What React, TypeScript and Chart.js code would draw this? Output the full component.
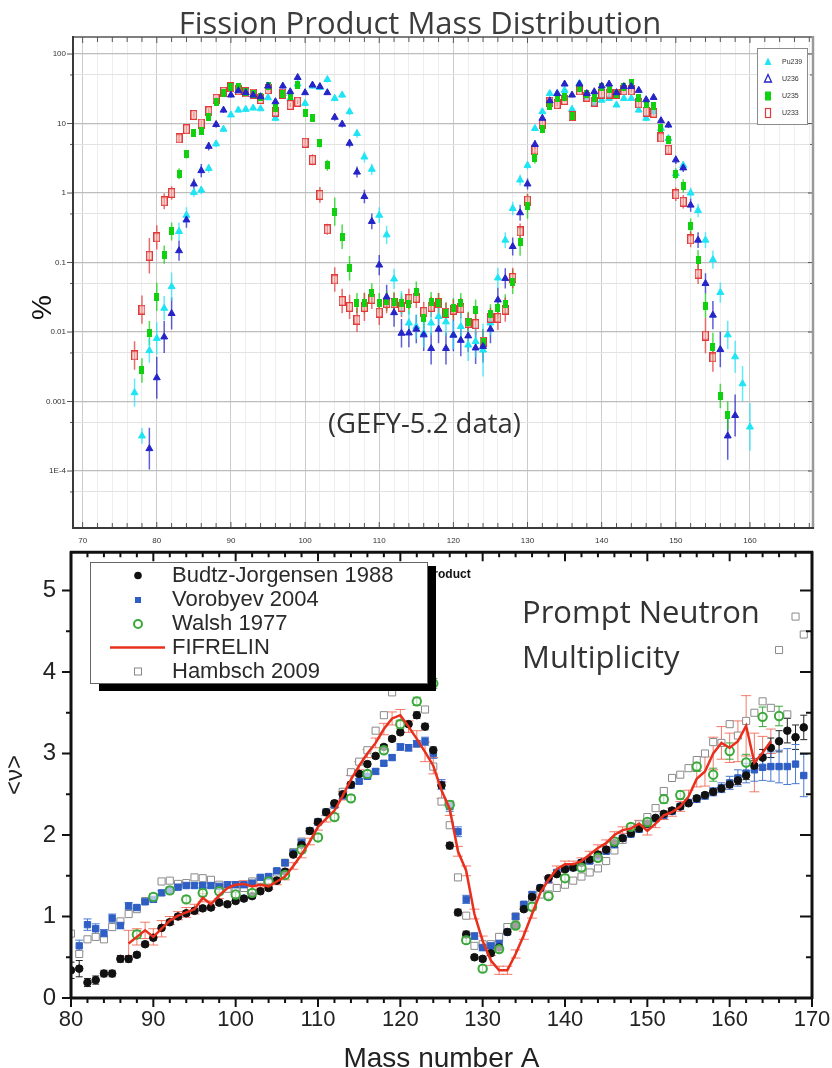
import React, { useEffect, useRef } from 'react';
import { Chart, registerables } from 'chart.js';

Chart.register(...registerables);

// ---------------- Top chart: fission product mass distribution ----------------
const topTitle = 'Fission Product Mass Distribution';
const gefyNote = '(GEFY-5.2 data)';
const topYAxisTitle = '%';
const topLegendLabels = ['Pu239', 'U236', 'U235', 'U233'];
const topXLabelTicks = [70, 80, 90, 100, 110, 120, 130, 140, 150, 160];
const topYTickValues = [0.00005, 0.0001, 0.0005, 0.001, 0.005, 0.01, 0.05, 0.1, 0.5, 1, 5, 10, 50, 100];
const topYDecades = [0.0001, 0.001, 0.01, 0.1, 1, 10, 100];
const topYDecadeLabels = ['1E-4', '0.001', '0.01', '0.1', '1', '10', '100'];

// [mass number, yield %, error factor]
const pu239 = [[77,0.00134,1.6],[78,0.00032,1.3],[79,0.0054,1.5],[80,0.0081,1.7],[81,0.022,1.5],[82,0.045,1.6],[83,0.28,1.35],[84,0.48,1.3],[85,1.02,1.15],[86,1.1,1.15],[87,2.26,1.15],[88,5.1,1.12],[89,8.3,1.1],[90,13.3,1.08],[91,15.6,1.08],[92,16,1.08],[93,16.7,1.08],[94,16.3,1.08],[95,23.5,1.08],[96,11.9,1.1],[97,27,1.08],[98,23,1.08],[99,37,1.08],[100,19.5,1.1],[101,34.6,1.1],[102,33,1.1],[103,43,1.1],[104,23,1.1],[105,25.7,1.1],[106,14.8,1.12],[107,7.2,1.15],[108,3.3,1.2],[109,2.2,1.2],[110,0.48,1.3],[111,0.25,1.35],[112,0.058,1.4],[113,0.026,1.5],[114,0.0135,1.5],[115,0.012,1.5],[116,0.0096,1.6],[117,0.0135,1.5],[118,0.0167,1.5],[119,0.014,1.6],[120,0.0091,1.6],[121,0.012,1.6],[122,0.0065,1.7],[123,0.0073,1.7],[124,0.0055,2.4],[125,0.0135,1.5],[126,0.06,1.4],[127,0.21,1.3],[128,0.6,1.25],[129,1.54,1.2],[130,2.5,1.15],[131,8.5,1.1],[132,14.8,1.1],[133,27,1.08],[134,27,1.08],[135,30,1.08],[136,16,1.08],[137,38,1.08],[138,24,1.08],[139,19,1.08],[140,21.7,1.08],[141,23,1.08],[142,18.5,1.08],[143,23,1.08],[144,23,1.08],[145,15.6,1.08],[146,11.9,1.1],[147,14.8,1.1],[148,8.5,1.1],[149,6.1,1.12],[150,1.9,1.15],[151,2.5,1.15],[152,1.0,1.2],[153,0.56,1.25],[154,0.21,1.3],[155,0.11,1.35],[156,0.037,1.4],[157,0.0091,1.6],[158,0.0044,1.7],[159,0.0018,1.8],[160,0.00043,2.2]];
const u236 = [[79,0.00021,2.0],[80,0.0022,2.0],[81,0.0085,1.7],[82,0.0185,1.7],[83,0.148,1.4],[84,0.41,1.3],[85,1.35,1.2],[86,2.1,1.25],[87,4.7,1.15],[88,9.7,1.12],[89,15.6,1.1],[90,25.7,1.08],[91,29.6,1.08],[92,27.8,1.08],[93,25.7,1.08],[94,24.3,1.08],[95,34.6,1.08],[96,20.6,1.08],[97,34.6,1.08],[98,28.7,1.08],[99,46,1.08],[100,27.8,1.08],[101,35.8,1.08],[102,34,1.08],[103,27.8,1.08],[104,12.3,1.12],[105,9.8,1.12],[106,5.2,1.15],[107,2.0,1.2],[108,0.89,1.25],[109,0.39,1.3],[110,0.092,1.4],[111,0.032,1.5],[112,0.019,1.6],[113,0.0096,1.6],[114,0.0097,1.6],[115,0.011,1.6],[116,0.0091,1.7],[117,0.0058,1.7],[118,0.011,1.6],[119,0.0058,1.7],[120,0.009,1.7],[121,0.0076,1.7],[122,0.0088,1.7],[123,0.0059,1.7],[124,0.0062,1.7],[125,0.011,1.6],[126,0.029,1.5],[127,0.059,1.4],[128,0.17,1.35],[129,0.52,1.3],[130,1.35,1.2],[131,5.0,1.15],[132,11.9,1.1],[133,21.3,1.08],[134,27,1.08],[135,37,1.08],[136,25.7,1.08],[137,37,1.08],[138,27,1.08],[139,28.7,1.08],[140,34.6,1.08],[141,37,1.08],[142,27.8,1.08],[143,34,1.08],[144,34,1.08],[145,30,1.08],[146,22,1.08],[147,23.7,1.08],[148,11,1.1],[149,9.5,1.1],[150,3.0,1.15],[151,2.3,1.15],[152,0.67,1.25],[153,0.21,1.3],[154,0.05,1.4],[155,0.0175,1.6],[156,0.0056,1.8],[157,0.00032,2.2],[158,0.00063,2.0]];
const u235 = [[78,0.0028,1.5],[79,0.0096,1.5],[80,0.032,1.6],[81,0.13,1.35],[82,0.28,1.35],[83,1.9,1.2],[84,3.6,1.15],[85,7.4,1.12],[86,7.9,1.12],[87,12.3,1.1],[88,20.6,1.08],[89,27.7,1.08],[90,33,1.08],[91,34,1.08],[92,28.7,1.08],[93,27,1.08],[94,24.3,1.08],[95,34.6,1.08],[96,17,1.08],[97,27,1.08],[98,25,1.08],[99,35.8,1.08],[100,14,1.1],[101,11.9,1.1],[102,5.2,1.15],[103,2.5,1.2],[104,0.54,1.6],[105,0.235,1.5],[106,0.083,1.5],[107,0.026,1.4],[108,0.026,1.4],[109,0.036,1.4],[110,0.026,1.4],[111,0.028,1.4],[112,0.027,1.4],[113,0.026,1.4],[114,0.025,1.4],[115,0.038,1.4],[116,0.016,1.4],[117,0.027,1.4],[118,0.026,1.4],[119,0.019,1.4],[120,0.022,1.4],[121,0.026,1.4],[122,0.014,1.4],[123,0.021,1.4],[124,0.0073,1.5],[125,0.018,1.4],[126,0.022,1.4],[127,0.025,1.4],[128,0.053,1.5],[129,0.2,1.6],[130,0.64,1.5],[131,3.2,1.2],[132,8.3,1.15],[133,17.9,1.1],[134,23,1.08],[135,24.3,1.08],[136,13,1.08],[137,32,1.08],[138,27,1.08],[139,23,1.08],[140,34,1.08],[141,31,1.08],[142,27,1.08],[143,33,1.08],[144,38,1.08],[145,23,1.08],[146,19,1.08],[147,18,1.08],[148,8.5,1.1],[149,5.8,1.12],[150,1.9,1.2],[151,1.26,1.25],[152,0.33,1.3],[153,0.108,1.4],[154,0.024,1.5],[155,0.0061,1.6],[156,0.0012,1.5],[157,0.00063,1.6]];
const u233 = [[77,0.0046,1.6],[78,0.021,1.6],[79,0.125,1.8],[80,0.23,1.5],[81,0.76,1.3],[82,1.0,1.25],[83,6.1,1.15],[84,8.3,1.12],[85,13.3,1.1],[86,10,1.1],[87,15,1.1],[88,22.7,1.08],[89,28.7,1.08],[90,33,1.08],[91,30,1.08],[92,28,1.08],[93,27,1.08],[94,22.5,1.08],[95,31,1.08],[96,14.8,1.08],[97,27,1.08],[98,18.5,1.08],[99,20.6,1.08],[100,5.3,1.12],[101,3.0,1.2],[102,0.94,1.3],[103,0.30,1.2],[104,0.057,1.5],[105,0.028,1.5],[106,0.023,1.5],[107,0.015,1.5],[108,0.023,1.6],[109,0.030,1.4],[110,0.019,1.5],[111,0.026,1.4],[112,0.026,1.4],[113,0.023,1.4],[114,0.030,1.4],[115,0.031,1.4],[116,0.0195,1.4],[117,0.023,1.4],[118,0.026,1.4],[119,0.019,1.4],[120,0.021,1.4],[121,0.022,1.4],[122,0.0135,1.4],[123,0.013,1.4],[124,0.0073,1.5],[125,0.016,1.4],[126,0.016,1.5],[127,0.021,1.5],[128,0.06,1.4],[129,0.28,1.3],[130,0.78,1.25],[131,4.2,1.15],[132,10,1.1],[133,20.6,1.08],[134,19,1.08],[135,21.8,1.08],[136,12.8,1.1],[137,30,1.08],[138,24.3,1.08],[139,20.6,1.08],[140,27,1.08],[141,27,1.08],[142,27,1.08],[143,30,1.08],[144,30,1.08],[145,19.5,1.08],[146,14.8,1.1],[147,14.3,1.1],[148,6.3,1.12],[149,4.2,1.15],[150,0.96,1.25],[151,0.75,1.25],[152,0.215,1.3],[153,0.069,1.4],[154,0.0089,1.8],[155,0.0043,1.6]];

// ---------------- Bottom chart: prompt neutron multiplicity ----------------
const noteLine1 = 'Prompt Neutron';
const noteLine2 = 'Multiplicity';
const productNote = 'product';
const botXTitle = 'Mass number A';
const botYTitle = '<\u03bd>';
const botLegendLabels = ['Budtz-Jorgensen 1988', 'Vorobyev 2004', 'Walsh 1977', 'FIFRELIN', 'Hambsch 2009'];
const botXLabelTicks = [80, 90, 100, 110, 120, 130, 140, 150, 160, 170];
const botYLabelTicks = [0, 1, 2, 3, 4, 5];

// [mass number, <nu>, error]
const budtz = [[80,0.34,0.1],[81,0.36,0.1],[82,0.19,0.05],[83,0.22,0.05],[84,0.30,0.04],[85,0.30,0.04],[86,0.48,0.04],[87,0.48,0.04],[88,0.53,0.03],[89,0.66,0.03],[90,0.74,0.03],[91,0.86,0.03],[92,0.93,0.03],[93,1.00,0.03],[94,1.04,0.03],[95,1.07,0.03],[96,1.10,0.03],[97,1.11,0.03],[98,1.17,0.03],[99,1.15,0.03],[100,1.19,0.03],[101,1.22,0.03],[102,1.25,0.03],[103,1.31,0.03],[104,1.35,0.03],[105,1.44,0.03],[106,1.55,0.03],[107,1.76,0.03],[108,1.88,0.03],[109,2.05,0.03],[110,2.16,0.03],[111,2.28,0.03],[112,2.39,0.03],[113,2.50,0.03],[114,2.62,0.03],[115,2.75,0.03],[116,2.87,0.03],[117,2.97,0.03],[118,3.08,0.03],[119,3.18,0.03],[120,3.26,0.03],[121,3.36,0.03],[122,3.47,0.04],[123,3.33,0.04],[124,3.04,0.04],[125,2.61,0.04],[126,1.87,0.04],[127,1.05,0.04],[128,0.78,0.04],[129,0.50,0.03],[130,0.48,0.03],[131,0.55,0.03],[132,0.62,0.03],[133,0.81,0.03],[134,0.89,0.03],[135,1.09,0.03],[136,1.24,0.03],[137,1.35,0.03],[138,1.47,0.03],[139,1.52,0.03],[140,1.58,0.03],[141,1.60,0.03],[142,1.66,0.03],[143,1.70,0.03],[144,1.76,0.03],[145,1.82,0.03],[146,1.90,0.03],[147,1.96,0.03],[148,2.02,0.03],[149,2.08,0.03],[150,2.14,0.03],[151,2.21,0.03],[152,2.26,0.03],[153,2.30,0.03],[154,2.35,0.03],[155,2.39,0.03],[156,2.45,0.03],[157,2.49,0.03],[158,2.53,0.04],[159,2.57,0.04],[160,2.62,0.04],[161,2.67,0.05],[162,2.73,0.05],[163,2.85,0.06],[164,2.95,0.1],[165,3.07,0.12],[166,3.15,0.13],[167,3.28,0.15],[168,3.20,0.15],[169,3.32,0.15]];
const vorobyev = [[81,0.64,0.07],[82,0.90,0.07],[83,0.85,0.06],[84,0.79,0.05],[85,0.98,0.05],[86,0.89,0.04],[87,1.13,0.04],[88,1.11,0.03],[89,1.18,0.03],[90,1.21,0.03],[91,1.29,0.03],[92,1.32,0.03],[93,1.36,0.03],[94,1.38,0.03],[95,1.38,0.03],[96,1.38,0.03],[97,1.38,0.03],[98,1.37,0.03],[99,1.39,0.03],[100,1.39,0.03],[101,1.39,0.03],[102,1.41,0.03],[103,1.48,0.03],[104,1.49,0.03],[105,1.56,0.03],[106,1.66,0.03],[107,1.78,0.03],[108,1.91,0.03],[109,2.05,0.03],[110,2.16,0.03],[111,2.28,0.03],[112,2.37,0.03],[113,2.48,0.03],[114,2.61,0.03],[115,2.66,0.03],[116,2.72,0.03],[117,2.78,0.03],[118,2.88,0.03],[119,2.95,0.03],[120,3.08,0.04],[121,3.07,0.04],[122,3.12,0.04],[123,3.15,0.05],[124,3.0,0.06],[125,2.62,0.06],[126,2.35,0.06],[127,2.04,0.06],[128,1.21,0.05],[129,0.76,0.04],[130,0.62,0.04],[131,0.64,0.03],[132,0.67,0.03],[133,0.81,0.03],[134,1.0,0.03],[135,1.15,0.03],[136,1.27,0.03],[137,1.35,0.03],[138,1.45,0.03],[139,1.54,0.03],[140,1.59,0.03],[141,1.60,0.03],[142,1.66,0.03],[143,1.68,0.03],[144,1.74,0.03],[145,1.80,0.03],[146,1.88,0.03],[147,1.96,0.03],[148,2.01,0.03],[149,2.07,0.03],[150,2.13,0.03],[151,2.20,0.03],[152,2.24,0.03],[153,2.29,0.03],[154,2.35,0.03],[155,2.40,0.03],[156,2.44,0.04],[157,2.48,0.04],[158,2.53,0.05],[159,2.58,0.06],[160,2.64,0.08],[161,2.70,0.1],[162,2.76,0.12],[163,2.80,0.14],[164,2.83,0.16],[165,2.84,0.18],[166,2.84,0.2],[167,2.84,0.22],[168,2.87,0.24],[169,2.73,0.26]];
const walsh = [[88,0.78,0.05],[90,1.24,0.04],[92,1.32,0.04],[94,1.21,0.04],[96,1.29,0.04],[98,1.31,0.04],[100,1.27,0.04],[102,1.29,0.04],[104,1.43,0.04],[106,1.51,0.04],[108,1.82,0.04],[110,1.97,0.04],[112,2.22,0.04],[114,2.45,0.04],[116,2.75,0.04],[118,3.04,0.04],[120,3.36,0.05],[122,3.64,0.05],[124,3.86,0.06],[126,2.37,0.05],[128,0.71,0.04],[130,0.36,0.04],[132,0.60,0.04],[134,0.89,0.04],[136,1.12,0.04],[138,1.25,0.04],[140,1.47,0.04],[142,1.60,0.04],[144,1.72,0.04],[146,1.92,0.04],[148,2.10,0.04],[150,2.16,0.04],[152,2.44,0.05],[154,2.49,0.05],[156,2.84,0.06],[158,2.74,0.08],[160,3.03,0.1],[162,2.89,0.1],[164,3.45,0.12],[166,3.46,0.12]];
const fifrelin = [[87,0.67,0.16],[88,0.75,0.1],[89,0.83,0.1],[90,0.75,0.1],[91,0.85,0.1],[92,0.95,0.05],[93,1.01,0.05],[94,1.05,0.06],[95,1.09,0.06],[96,1.23,0.05],[97,1.15,0.04],[98,1.26,0.04],[99,1.35,0.04],[100,1.39,0.04],[101,1.40,0.04],[102,1.37,0.04],[103,1.39,0.04],[104,1.37,0.04],[105,1.43,0.04],[106,1.49,0.04],[107,1.62,0.04],[108,1.76,0.04],[109,1.92,0.04],[110,2.10,0.04],[111,2.20,0.04],[112,2.30,0.04],[113,2.48,0.05],[114,2.68,0.05],[115,2.85,0.05],[116,3.0,0.05],[117,3.13,0.06],[118,3.30,0.07],[119,3.43,0.08],[120,3.47,0.07],[121,3.33,0.07],[122,3.18,0.1],[123,3.02,0.12],[124,2.85,0.1],[125,2.55,0.1],[126,2.32,0.08],[127,1.80,0.06],[128,1.56,0.06],[129,1.03,0.06],[130,0.70,0.06],[131,0.46,0.06],[132,0.34,0.05],[133,0.34,0.05],[134,0.54,0.05],[135,0.77,0.05],[136,1.03,0.05],[137,1.29,0.04],[138,1.45,0.04],[139,1.58,0.04],[140,1.64,0.04],[141,1.64,0.04],[142,1.68,0.04],[143,1.76,0.04],[144,1.84,0.04],[145,1.90,0.04],[146,2.0,0.04],[147,2.06,0.04],[148,2.08,0.04],[149,2.14,0.04],[150,2.05,0.05],[151,2.14,0.05],[152,2.24,0.05],[153,2.28,0.05],[154,2.35,0.06],[155,2.47,0.08],[156,2.69,0.1],[157,2.78,0.18],[158,3.0,0.2],[159,3.13,0.2],[160,3.07,0.18],[161,3.15,0.25],[162,3.34,0.37],[163,2.89,0.36],[164,3.01,0.2],[165,3.15,0.15]];
const hambsch = [[80,0.79],[81,0.54],[82,0.72],[83,0.75],[84,0.72],[85,0.87],[86,0.94],[87,1.03],[88,1.09],[89,1.19],[90,1.24],[91,1.43],[92,1.44],[93,1.40],[94,1.41],[95,1.48],[96,1.47],[97,1.45],[98,1.39],[99,1.34],[100,1.34],[101,1.35],[102,1.43],[103,1.45],[104,1.45],[105,1.54],[106,1.66],[107,1.79],[108,1.92],[109,2.05],[110,2.16],[111,2.28],[112,2.37],[113,2.53],[114,2.77],[115,2.90],[116,3.04],[117,3.28],[118,3.47],[119,3.75],[123,3.54],[124,2.84],[125,2.41],[126,2.12],[127,1.48],[128,1.01],[129,0.64],[130,0.66],[131,0.66],[132,0.75],[133,0.87],[134,1.0],[135,1.13],[136,1.22],[137,1.27],[138,1.27],[139,1.35],[140,1.39],[141,1.44],[142,1.49],[143,1.54],[144,1.59],[145,1.68],[146,1.81],[147,1.94],[148,2.06],[149,2.13],[150,2.22],[151,2.33],[152,2.54],[153,2.70],[154,2.74],[155,2.82],[156,2.92],[157,3.0],[158,3.14],[159,3.13],[160,3.36],[161,3.22],[162,3.40],[163,3.50],[164,3.64],[165,3.56],[166,4.27],[167,3.48],[168,4.68],[169,4.46]];

// ---------------- helpers ----------------
const SANS = '"Liberation Sans", Arial, sans-serif';
const OPEN = '"Open Sans", "Noto Sans", sans-serif';

function rectMarker(w: number, h: number, fill: string | null, stroke: string | null, lw: number) {
  const c = document.createElement('canvas');
  c.width = w; c.height = h;
  const g = c.getContext('2d')!;
  if (fill) { g.fillStyle = fill; g.fillRect(0, 0, w, h); }
  if (stroke) { g.strokeStyle = stroke; g.lineWidth = lw; g.strokeRect(lw / 2, lw / 2, w - lw, h - lw); }
  return c;
}

const errorBarPlugin = {
  id: 'errorBars',
  beforeDatasetsDraw(chart: any) {
    const { ctx, chartArea: a } = chart;
    const ys = chart.scales.y;
    ctx.save();
    ctx.beginPath();
    ctx.rect(a.left, a.top, a.right - a.left, a.bottom - a.top);
    ctx.clip();
    chart.data.datasets.forEach((ds: any, di: number) => {
      if (!ds.errors) return;
      const meta = chart.getDatasetMeta(di);
      ctx.strokeStyle = ds.errColor;
      ctx.lineWidth = ds.errWidth || 1;
      ctx.beginPath();
      ds.data.forEach((pt: any, i: number) => {
        const e = ds.errors[i];
        const el = meta.data[i];
        if (e == null || !el) return;
        const lo = ds.errMode === 'factor' ? pt.y / e : pt.y - e;
        const hi = ds.errMode === 'factor' ? pt.y * e : pt.y + e;
        const y1 = ys.getPixelForValue(lo);
        const y2 = ys.getPixelForValue(hi);
        const x = el.x;
        ctx.moveTo(x, y1); ctx.lineTo(x, y2);
        const cw = ds.capWidth || 0;
        if (cw) {
          ctx.moveTo(x - cw, y1); ctx.lineTo(x + cw, y1);
          ctx.moveTo(x - cw, y2); ctx.lineTo(x + cw, y2);
        }
      });
      ctx.stroke();
    });
    ctx.restore();
  },
};

function framePlugin(spec: any) {
  return {
    id: 'frame',
    afterDatasetsDraw(chart: any) {
      const { ctx, chartArea: a } = chart;
      const xs = chart.scales.x, ys = chart.scales.y;
      ctx.save();
      ctx.strokeStyle = spec.tickColor;
      ctx.lineWidth = spec.tickWidth;
      ctx.beginPath();
      for (const t of xs.ticks) {
        const p = xs.getPixelForValue(t.value);
        if (p < a.left - 0.5 || p > a.right + 0.5) continue;
        const maj = spec.xMajor(t.value);
        const lb = maj ? spec.bottom[0] : spec.bottom[1];
        ctx.moveTo(p, a.bottom); ctx.lineTo(p, a.bottom + spec.bottom[2] * lb);
        const lt = maj ? spec.top[0] : spec.top[1];
        ctx.moveTo(p, a.top); ctx.lineTo(p, a.top + spec.top[2] * lt);
      }
      for (const t of ys.ticks) {
        const p = ys.getPixelForValue(t.value);
        if (p < a.top - 0.5 || p > a.bottom + 0.5) continue;
        const maj = spec.yMajor(t.value);
        const ll = maj ? spec.left[0] : spec.left[1];
        ctx.moveTo(a.left, p); ctx.lineTo(a.left + spec.left[2] * ll, p);
        const lr = maj ? spec.right[0] : spec.right[1];
        ctx.moveTo(a.right, p); ctx.lineTo(a.right + spec.right[2] * lr, p);
      }
      ctx.stroke();
      const side = (w: number, c: string, x1: number, y1: number, x2: number, y2: number) => {
        ctx.lineWidth = w; ctx.strokeStyle = c;
        ctx.beginPath(); ctx.moveTo(x1, y1); ctx.lineTo(x2, y2); ctx.stroke();
      };
      const b = spec.border;
      side(b.top[0], b.top[1], a.left - 1, a.top, a.right + 1, a.top);
      side(b.right[0], b.right[1], a.right, a.top - 1, a.right, a.bottom + 1);
      side(b.bottom[0], b.bottom[1], a.left - 1, a.bottom, a.right + 1, a.bottom);
      side(b.left[0], b.left[1], a.left, a.top - 1, a.left, a.bottom + 1);
      ctx.restore();
    },
  };
}

const isDecade = (v: number) => Math.abs(Math.log10(v) - Math.round(Math.log10(v))) < 1e-6;

const topOverlayPlugin = {
  id: 'topOverlay',
  afterDraw(chart: any) {
    const ctx = chart.ctx;
    ctx.save();
    ctx.fillStyle = '#3c3c3c';
    ctx.font = `31px ${OPEN}`;
    ctx.textAlign = 'center';
    ctx.textBaseline = 'alphabetic';
    ctx.fillText(topTitle, 420, 34);
    ctx.fillStyle = '#333';
    ctx.font = `27.5px ${OPEN}`;
    ctx.textAlign = 'left';
    ctx.fillText(gefyNote, 328, 433);
    ctx.save();
    ctx.translate(43.5, 307.5);
    ctx.rotate(-Math.PI / 2);
    ctx.font = `28px ${SANS}`;
    ctx.fillStyle = '#111';
    ctx.textAlign = 'center';
    ctx.textBaseline = 'middle';
    ctx.fillText(topYAxisTitle, 0, 0);
    ctx.restore();
    // legend box
    const lx = 757, ly = 48, lw = 50, lh = 76;
    ctx.fillStyle = '#fff';
    ctx.fillRect(lx, ly, lw, lh);
    ctx.strokeStyle = '#8c8c8c';
    ctx.lineWidth = 1;
    ctx.strokeRect(lx + 0.5, ly + 0.5, lw, lh);
    const rows = [62, 79, 96, 113];
    const mx = 768;
    // Pu239 filled cyan triangle
    ctx.fillStyle = '#1ee4f4';
    ctx.beginPath(); ctx.moveTo(mx, rows[0] - 4.5); ctx.lineTo(mx + 3.5, rows[0] + 3); ctx.lineTo(mx - 3.5, rows[0] + 3); ctx.closePath(); ctx.fill();
    // U236 open blue triangle
    ctx.strokeStyle = '#2424c8'; ctx.lineWidth = 1.3;
    ctx.beginPath(); ctx.moveTo(mx, rows[1] - 4.5); ctx.lineTo(mx + 3.5, rows[1] + 3); ctx.lineTo(mx - 3.5, rows[1] + 3); ctx.closePath(); ctx.stroke();
    // U235 green filled rect
    ctx.fillStyle = '#10d010';
    ctx.fillRect(mx - 3, rows[2] - 4.5, 6, 9);
    // U233 red open rect
    ctx.strokeStyle = '#e03a3a'; ctx.lineWidth = 1.2;
    ctx.strokeRect(mx - 2.5, rows[3] - 4.5, 5, 9);
    ctx.fillStyle = '#333';
    ctx.font = `7px ${SANS}`;
    ctx.textAlign = 'left';
    ctx.textBaseline = 'middle';
    topLegendLabels.forEach((t, i) => ctx.fillText(t, 782, rows[i]));
    ctx.restore();
  },
};

const botOverlayPlugin = {
  id: 'botOverlay',
  afterDraw(chart: any) {
    const ctx = chart.ctx;
    ctx.save();
    ctx.fillStyle = '#333';
    ctx.font = `31px ${OPEN}`;
    ctx.textAlign = 'left';
    ctx.textBaseline = 'alphabetic';
    ctx.fillText(noteLine1, 522, 77);
    ctx.fillText(noteLine2, 522, 122);
    ctx.fillStyle = '#111';
    ctx.font = `bold 12px ${SANS}`;
    ctx.fillText(productNote, 426, 32);
    // legend shadow and box
    const bx = 90, by = 16, bw = 337, bh = 121;
    ctx.fillStyle = '#000';
    ctx.fillRect(bx + 9, by + 4, bw, bh + 4);
    ctx.fillStyle = '#fff';
    ctx.fillRect(bx, by, bw, bh);
    ctx.strokeStyle = '#666';
    ctx.lineWidth = 1;
    ctx.strokeRect(bx + 0.5, by + 0.5, bw, bh);
    const rows = [29.5, 54, 78, 101.5, 125.5];
    const mx = 138;
    // Budtz: black dot
    ctx.fillStyle = '#111';
    ctx.beginPath(); ctx.arc(mx, rows[0], 3.8, 0, Math.PI * 2); ctx.fill();
    // Vorobyev: blue square
    ctx.fillStyle = '#2f5fc4';
    ctx.fillRect(mx - 3, rows[1] - 3, 6, 6);
    // Walsh: green open circle
    ctx.strokeStyle = '#3aa83a'; ctx.lineWidth = 2;
    ctx.beginPath(); ctx.arc(mx, rows[2], 4, 0, Math.PI * 2); ctx.stroke();
    // FIFRELIN: red line
    ctx.strokeStyle = '#e8301c'; ctx.lineWidth = 2.5;
    ctx.beginPath(); ctx.moveTo(110, rows[3]); ctx.lineTo(165, rows[3]); ctx.stroke();
    // Hambsch: gray open square
    ctx.strokeStyle = '#888'; ctx.lineWidth = 1;
    ctx.strokeRect(mx - 3.5, rows[4] - 3.5, 7, 7);
    ctx.fillStyle = '#2a2a2a';
    ctx.font = `22px ${SANS}`;
    ctx.textAlign = 'left';
    ctx.textBaseline = 'middle';
    botLegendLabels.forEach((t, i) => ctx.fillText(t, 172, rows[i]));
    ctx.restore();
  },
};

function buildTopConfig(): any {
  const greenMarker = rectMarker(5, 8, '#10d010', null, 0);
  const redMarker = rectMarker(7, 10, 'rgba(250,205,195,0.45)', '#e03a3a', 1.3);
  const toPts = (rows: number[][]) => rows.map((r) => ({ x: r[0], y: r[1] }));
  const toErr = (rows: number[][]) => rows.map((r) => r[2]);
  return {
    type: 'scatter',
    data: {
      datasets: [
        { label: topLegendLabels[1], data: toPts(u236), errors: toErr(u236), errMode: 'factor', errColor: 'rgba(40,40,200,0.75)', errWidth: 1.5, pointStyle: 'triangle', pointRadius: 4, backgroundColor: '#2424c8', borderColor: '#2424c8', borderWidth: 1, order: 0 },
        { label: topLegendLabels[2], data: toPts(u235), errors: toErr(u235), errMode: 'factor', errColor: 'rgba(20,210,20,0.75)', errWidth: 1.5, pointStyle: greenMarker, order: 1 },
        { label: topLegendLabels[3], data: toPts(u233), errors: toErr(u233), errMode: 'factor', errColor: 'rgba(225,60,60,0.75)', errWidth: 1.5, pointStyle: redMarker, order: 2 },
        { label: topLegendLabels[0], data: toPts(pu239), errors: toErr(pu239), errMode: 'factor', errColor: 'rgba(30,225,245,0.7)', errWidth: 1.5, pointStyle: 'triangle', pointRadius: 4, backgroundColor: '#1ee4f4', borderColor: '#1ee4f4', borderWidth: 1, order: 3 },
      ],
    },
    options: {
      animation: false,
      responsive: false,
      devicePixelRatio: 1,
      layout: { padding: { top: 37, right: 19, left: 0, bottom: 0 } },
      plugins: { legend: { display: false }, tooltip: { enabled: false } },
      scales: {
        x: {
          type: 'linear', min: 68.7, max: 168.5,
          grid: { drawTicks: false, color: (c: any) => (c.tick && c.tick.value % 10 === 0 ? '#cccccc' : '#eeeeee'), lineWidth: 1 },
          border: { display: false },
          ticks: {
            stepSize: 2, autoSkip: false, maxRotation: 0, minRotation: 0, includeBounds: false, padding: 8,
            font: { size: 8, family: SANS }, color: '#333',
            callback: (v: number) => (topXLabelTicks.includes(Math.round(v)) && Math.abs(v - Math.round(v)) < 1e-6 ? String(Math.round(v)) : ''),
          },
          afterFit: (s: any) => { s.height = 18; s.paddingLeft = 0; s.paddingRight = 0; },
        },
        y: {
          type: 'logarithmic', min: 1.514e-5, max: 175.8,
          afterBuildTicks: (s: any) => { s.ticks = topYTickValues.map((v) => ({ value: v })); },
          grid: { drawTicks: false, color: (c: any) => (c.tick && isDecade(c.tick.value) ? '#bdbdbd' : '#e2e2e2'), lineWidth: (c: any) => (c.tick && isDecade(c.tick.value) ? 1.3 : 1) },
          border: { display: false },
          ticks: {
            autoSkip: false, padding: 7, font: { size: 8, family: SANS }, color: '#333',
            callback: (v: number) => {
              const idx = topYDecades.findIndex((d) => Math.abs(d - v) / d < 1e-6);
              return idx >= 0 ? topYDecadeLabels[idx] : '';
            },
          },
          afterFit: (s: any) => { s.width = 73; s.paddingTop = 0; s.paddingBottom = 0; },
        },
      },
    },
    plugins: [
      errorBarPlugin,
      framePlugin({
        tickColor: '#555', tickWidth: 1,
        xMajor: (v: number) => v % 10 === 0,
        yMajor: isDecade,
        bottom: [6, 5, -1], top: [6, 5, 1], left: [6, 3, -1], right: [5, 3, -1],
        border: { top: [1.5, '#555'], right: [2.5, '#9a9a9a'], bottom: [2, '#3a3a3a'], left: [2, '#3a3a3a'] },
      }),
      topOverlayPlugin,
    ],
  };
}

function buildBottomConfig(): any {
  const toPts = (rows: number[][]) => rows.map((r) => ({ x: r[0], y: r[1] }));
  const toErr = (rows: number[][]) => rows.map((r) => r[2]);
  return {
    type: 'scatter',
    data: {
      datasets: [
        { type: 'line', label: botLegendLabels[3], data: toPts(fifrelin), errors: toErr(fifrelin), errMode: 'abs', errColor: 'rgba(240,90,70,0.8)', errWidth: 1, capWidth: 5, showLine: true, borderColor: '#e8301c', borderWidth: 2.5, pointRadius: 0, tension: 0, fill: false, order: 0 },
        { label: botLegendLabels[2], data: toPts(walsh), errors: toErr(walsh), errMode: 'abs', errColor: '#3aa83a', errWidth: 1, capWidth: 4, pointStyle: 'circle', pointRadius: 4.2, backgroundColor: 'rgba(255,255,255,0.6)', borderColor: '#3aa83a', borderWidth: 2, order: 1 },
        { label: botLegendLabels[0], data: toPts(budtz), errors: toErr(budtz), errMode: 'abs', errColor: '#222', errWidth: 1, capWidth: 3.5, pointStyle: 'circle', pointRadius: 3.8, backgroundColor: '#111', borderColor: '#111', borderWidth: 1, order: 2 },
        { label: botLegendLabels[1], data: toPts(vorobyev), errors: toErr(vorobyev), errMode: 'abs', errColor: '#4a78d0', errWidth: 1, capWidth: 4, pointStyle: 'rect', pointRadius: 4.5, backgroundColor: '#2f5fc4', borderColor: '#2f5fc4', borderWidth: 1, order: 3 },
        { label: botLegendLabels[4], data: toPts(hambsch), pointStyle: 'rect', pointRadius: 5, backgroundColor: '#ffffff', borderColor: '#8a8a8a', borderWidth: 1, order: 4 },
      ],
    },
    options: {
      animation: false,
      responsive: false,
      devicePixelRatio: 1,
      layout: { padding: { top: 2, right: 20, left: 0, bottom: 0 } },
      plugins: { legend: { display: false }, tooltip: { enabled: false } },
      scales: {
        x: {
          type: 'linear', min: 80, max: 170,
          grid: { display: false, drawTicks: false },
          border: { display: false },
          ticks: {
            stepSize: 2, autoSkip: false, maxRotation: 0, minRotation: 0, includeBounds: false, padding: 9,
            font: { size: 22, family: SANS }, color: '#222',
            callback: (v: number) => (botXLabelTicks.includes(v) ? String(v) : ''),
          },
          title: { display: true, text: botXTitle, color: '#222', font: { size: 28, family: SANS, lineHeight: 1 }, padding: { top: 0, bottom: -5 } },
          afterFit: (s: any) => { s.height = 70; s.paddingLeft = 0; s.paddingRight = 0; },
        },
        y: {
          type: 'linear', min: 0, max: 5.47,
          grid: { display: false, drawTicks: false },
          border: { display: false },
          ticks: {
            stepSize: 0.5, autoSkip: false, includeBounds: false, padding: 15,
            font: { size: 24, family: SANS }, color: '#222',
            callback: (v: number) => (botYLabelTicks.includes(v) ? String(v) : ''),
          },
          title: { display: true, text: botYTitle, color: '#222', font: { size: 24, family: SANS, lineHeight: 1 }, padding: { top: 3, bottom: 0 } },
          afterFit: (s: any) => { s.width = 71; s.paddingTop = 0; s.paddingBottom = 0; },
        },
      },
    },
    plugins: [
      errorBarPlugin,
      framePlugin({
        tickColor: '#111', tickWidth: 2,
        xMajor: (v: number) => v % 10 === 0,
        yMajor: (v: number) => Math.abs(v - Math.round(v)) < 1e-6,
        bottom: [9, 5, 1], top: [9, 5, 1], left: [9, 5, -1], right: [12, 6, -1],
        border: { top: [3, '#111'], right: [3, '#111'], bottom: [3, '#111'], left: [3, '#111'] },
      }),
      botOverlayPlugin,
    ],
  };
}

export default function App() {
  const topRef = useRef<HTMLCanvasElement>(null);
  const botRef = useRef<HTMLCanvasElement>(null);
  useEffect(() => {
    const top = new Chart(topRef.current as HTMLCanvasElement, buildTopConfig());
    const bot = new Chart(botRef.current as HTMLCanvasElement, buildBottomConfig());
    return () => { top.destroy(); bot.destroy(); };
  }, []);
  return (
    <div style={{ position: 'absolute', left: 0, top: 0, width: 832, height: 1068, background: '#fff', overflow: 'hidden' }}>
      <canvas ref={topRef} width={832} height={546} style={{ position: 'absolute', left: 0, top: 0, width: 832, height: 546 }} />
      <canvas ref={botRef} width={832} height={522} style={{ position: 'absolute', left: 0, top: 546, width: 832, height: 522 }} />
    </div>
  );
}
